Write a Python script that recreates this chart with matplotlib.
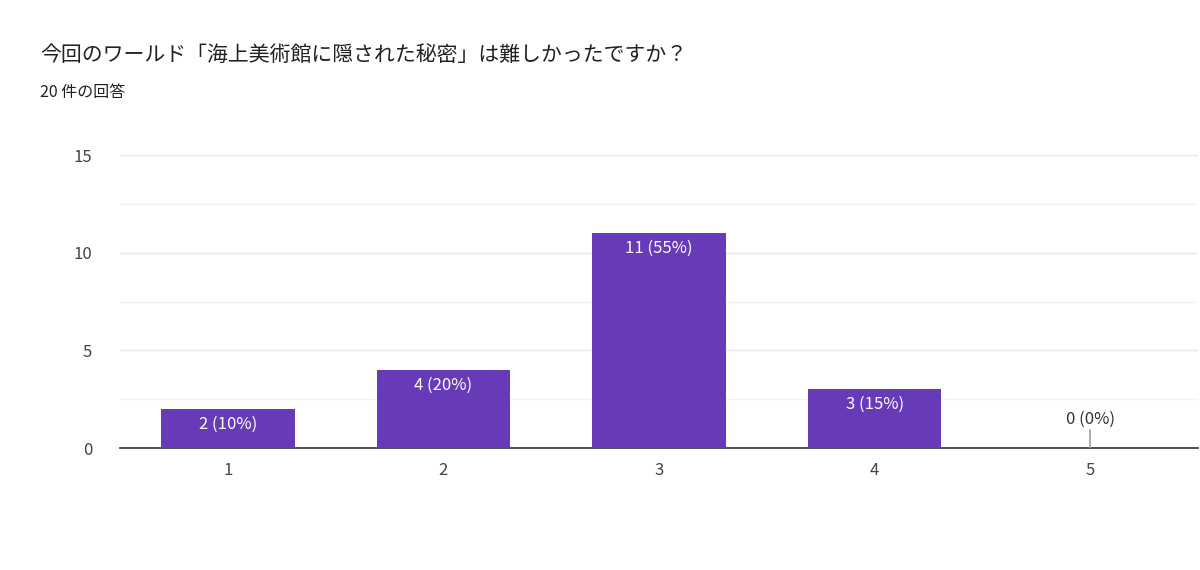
import numpy as np
import matplotlib.pyplot as plt

plt.rcParams['font.family'] = ['Noto Sans CJK JP', 'DejaVu Sans']

categories = ['1', '2', '3', '4', '5']
counts = [2, 4, 11, 3, 0]
percents = [10, 20, 55, 15, 0]
total = 20

fig = plt.figure(figsize=(12, 5.7), dpi=100)
ax = fig.add_axes([0.1, 0.214, 0.8983, 0.514])

x = np.arange(1, len(categories) + 1)
ax.bar(x, counts, width=0.62, color='#673ab7', zorder=3)

for xi, c, p in zip(x, counts, percents):
    label = '{} ({}%)'.format(c, p)
    if c > 0:
        ax.text(xi, c - 0.35, label, ha='center', va='top', color='white', fontsize=12, zorder=4)
    else:
        ax.plot([xi, xi], [0, 0.9], color='#9e9e9e', lw=1.2, zorder=4)
        ax.text(xi, 1.05, label, ha='center', va='bottom', color='#333333', fontsize=12, zorder=4)

ax.set_xlim(0.5, 5.5)
ax.set_ylim(0, 15)
ax.set_xticks(x)
ax.set_xticklabels(categories)
ax.set_yticks([0, 5, 10, 15])
ax.set_yticks([2.5, 7.5, 12.5], minor=True)
ax.grid(True, axis='y', which='major', color='#e6e6e6', lw=1, zorder=0)
ax.grid(True, axis='y', which='minor', color='#f3f3f3', lw=1, zorder=0)
ax.tick_params(axis='both', which='both', length=0, labelsize=12, colors='#444444', pad=10)
ax.tick_params(axis='y', pad=20)
for s in ['top', 'right', 'left']:
    ax.spines[s].set_visible(False)
ax.spines['bottom'].set_color('#333333')
ax.spines['bottom'].set_linewidth(1.2)

fig.text(40 / 1200, 1 - 55 / 570, '今回のワールド「海上美術館に隠された秘密」は難しかったですか？',
         fontsize=15, color='#202124', va='center')
fig.text(40 / 1200, 1 - 92 / 570, '{} 件の回答'.format(total),
         fontsize=11.5, color='#202124', va='center')

fig.savefig('out.png', dpi=100)
